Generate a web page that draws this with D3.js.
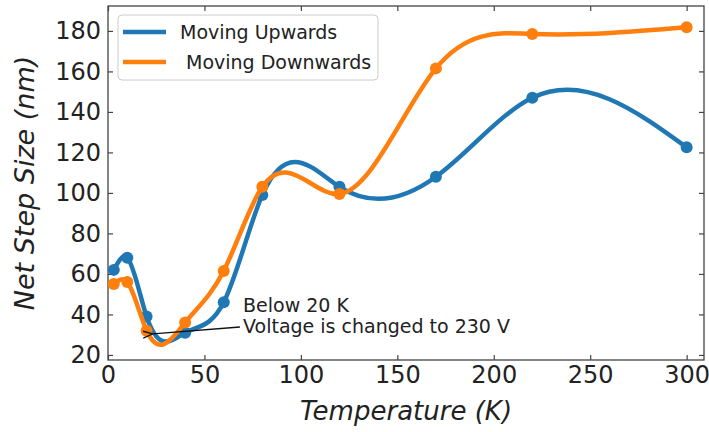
<!DOCTYPE html>
<meta charset="utf-8">
<script src="https://d3js.org/d3.v7.min.js"></script>
<style>
  body { margin: 0; background: #fff; }
  text { font-family: "DejaVu Sans", sans-serif; fill: #222; }
  .tick text { font-size: 24px; }
</style>
<div id="my_dataviz"></div>
<script>
// values
var temps = [3, 10, 20, 40, 60, 80, 120, 170, 220, 300];
var upValues = [62, 68, 39, 31, 46, 99, 103, 108, 147, 122.5];
var downValues = [55, 56, 32, 36, 61.5, 103, 99.5, 161.5, 178.5, 181.8];
var seriesNames = ["Moving Upwards", " Moving Downwards"];
var seriesColors = ["#1f77b4", "#ff7f0e"];
var xTicks = [0, 50, 100, 150, 200, 250, 300];
var yTicks = [20, 40, 60, 80, 100, 120, 140, 160, 180];

var margin = {top: 6, right: 5, bottom: 72, left: 108},
    width = 709 - margin.left - margin.right,
    height = 432 - margin.top - margin.bottom;

var svg = d3.select("#my_dataviz")
  .append("svg")
    .attr("width", 709)
    .attr("height", 432)
  .append("g")
    .attr("transform", "translate(" + margin.left + "," + margin.top + ")");

var x = d3.scaleLinear().domain([0, 309]).range([0, width]);
var y = d3.scaleLinear().domain([17.5, 192.3]).range([height, 0]);

// natural cubic spline in x, drawn as exact bezier pieces
function splineSlopes(xs, ys) {
  var n = xs.length, h = [], i;
  for (i = 0; i < n - 1; i++) h.push(xs[i+1] - xs[i]);
  // tridiagonal system for second derivatives, M[0] = M[n-1] = 0
  var a = new Array(n).fill(0), b = new Array(n).fill(1), c = new Array(n).fill(0), r = new Array(n).fill(0);
  for (i = 1; i < n - 1; i++) {
    a[i] = h[i-1]; b[i] = 2 * (h[i-1] + h[i]); c[i] = h[i];
    r[i] = 6 * ((ys[i+1] - ys[i]) / h[i] - (ys[i] - ys[i-1]) / h[i-1]);
  }
  for (i = 1; i < n; i++) {
    var m = a[i] / b[i-1];
    b[i] -= m * c[i-1];
    r[i] -= m * r[i-1];
  }
  var M = new Array(n).fill(0);
  M[n-1] = r[n-1] / b[n-1];
  for (i = n - 2; i >= 0; i--) M[i] = (r[i] - c[i] * M[i+1]) / b[i];
  var d = [];
  for (i = 0; i < n - 1; i++) d.push((ys[i+1] - ys[i]) / h[i] - h[i] * (2 * M[i] + M[i+1]) / 6);
  d.push((ys[n-1] - ys[n-2]) / h[n-2] + h[n-2] * (M[n-2] + 2 * M[n-1]) / 6);
  return d;
}

function curveSplineX(context) { return new SplineX(context); }
function SplineX(context) { this._context = context; }
SplineX.prototype = {
  areaStart: function() {},
  areaEnd: function() {},
  lineStart: function() { this._x = []; this._y = []; },
  point: function(px, py) { this._x.push(+px); this._y.push(+py); },
  lineEnd: function() {
    var xs = this._x, ys = this._y, ctx = this._context;
    var d = splineSlopes(xs, ys);
    ctx.moveTo(xs[0], ys[0]);
    for (var i = 0; i < xs.length - 1; i++) {
      var h = (xs[i+1] - xs[i]) / 3;
      ctx.bezierCurveTo(xs[i] + h, ys[i] + d[i] * h, xs[i+1] - h, ys[i+1] - d[i+1] * h, xs[i+1], ys[i+1]);
    }
  }
};

// axes, ticks pointing inwards on all four sides
svg.append("g")
  .attr("transform", "translate(0," + height + ")")
  .call(d3.axisBottom(x).tickValues(xTicks).tickSizeInner(-5).tickSizeOuter(0).tickPadding(6))
  .select(".domain").remove();
svg.append("g")
  .call(d3.axisTop(x).tickValues(xTicks).tickSizeInner(-5).tickSizeOuter(0).tickFormat(""))
  .select(".domain").remove();
svg.append("g")
  .call(d3.axisLeft(y).tickValues(yTicks).tickSizeInner(-5).tickSizeOuter(0).tickPadding(7))
  .select(".domain").remove();
svg.append("g")
  .attr("transform", "translate(" + width + ",0)")
  .call(d3.axisRight(y).tickValues(yTicks).tickSizeInner(-5).tickSizeOuter(0).tickFormat(""))
  .select(".domain").remove();
svg.selectAll(".tick line").attr("stroke", "#444").attr("stroke-width", 1.2);
svg.selectAll(".tick text").attr("fill", "#222");

svg.append("rect")
  .attr("width", width).attr("height", height)
  .attr("fill", "none").attr("stroke", "#444").attr("stroke-width", 1.3);

// curves and points
var line = d3.line()
  .x(function(d) { return x(d[0]); })
  .y(function(d) { return y(d[1]); })
  .curve(curveSplineX);

[upValues, downValues].forEach(function(vals, k) {
  var pts = temps.map(function(t, i) { return [t, vals[i]]; });
  svg.append("path")
    .datum(pts)
    .attr("d", line)
    .attr("fill", "none")
    .attr("stroke", seriesColors[k])
    .attr("stroke-width", 4.5);
  svg.append("g").selectAll("circle")
    .data(pts)
    .enter()
    .append("circle")
      .attr("cx", function(d) { return x(d[0]); })
      .attr("cy", function(d) { return y(d[1]); })
      .attr("r", 6)
      .style("fill", seriesColors[k]);
});

// annotation
svg.append("defs").append("marker")
  .attr("id", "arrowhead")
  .attr("viewBox", "0 -5 10 10")
  .attr("refX", 0).attr("refY", 0)
  .attr("markerWidth", 10).attr("markerHeight", 10)
  .attr("markerUnits", "userSpaceOnUse")
  .attr("orient", "auto-start-reverse")
  .append("path")
    .attr("d", "M10,-3.5L0,0L10,3.5")
    .attr("fill", "none")
    .attr("stroke", "#111")
    .attr("stroke-width", 1.3);
svg.append("line")
  .attr("x1", x(68.4)).attr("y1", y(33.8))
  .attr("x2", x(23.3)).attr("y2", y(30.4))
  .attr("stroke", "#111").attr("stroke-width", 1.3)
  .attr("marker-end", "url(#arrowhead)");
svg.append("text").attr("x", x(70)).attr("y", y(41.2))
  .style("font-size", "19px").text("Below 20 K");
svg.append("text").attr("x", x(70)).attr("y", y(30.9))
  .style("font-size", "19px").text("Voltage is changed to 230 V");

// legend
var legend = svg.append("g").attr("transform", "translate(10,9)");
legend.append("rect")
  .attr("width", 260).attr("height", 65).attr("rx", 4)
  .attr("fill", "#fff").attr("fill-opacity", 0.8)
  .attr("stroke", "#ccc");
seriesNames.forEach(function(name, k) {
  legend.append("line")
    .attr("x1", 5).attr("x2", 48)
    .attr("y1", 17 + k * 30).attr("y2", 17 + k * 30)
    .attr("stroke", seriesColors[k]).attr("stroke-width", 4.5);
  legend.append("text")
    .attr("x", 62).attr("y", 24 + k * 30)
    .style("font-size", "19px")
    .style("white-space", "pre")
    .text(name);
});

// axis labels
svg.append("text")
  .attr("text-anchor", "middle")
  .attr("x", width / 2)
  .attr("y", height + 60)
  .style("font-size", "26px").style("font-style", "italic")
  .text("Temperature (K)");
svg.append("text")
  .attr("text-anchor", "middle")
  .attr("transform", "rotate(-90)")
  .attr("x", -height / 2)
  .attr("y", -margin.left + 34)
  .style("font-size", "27px").style("font-style", "italic")
  .text("Net Step Size (nm)");
</script>
